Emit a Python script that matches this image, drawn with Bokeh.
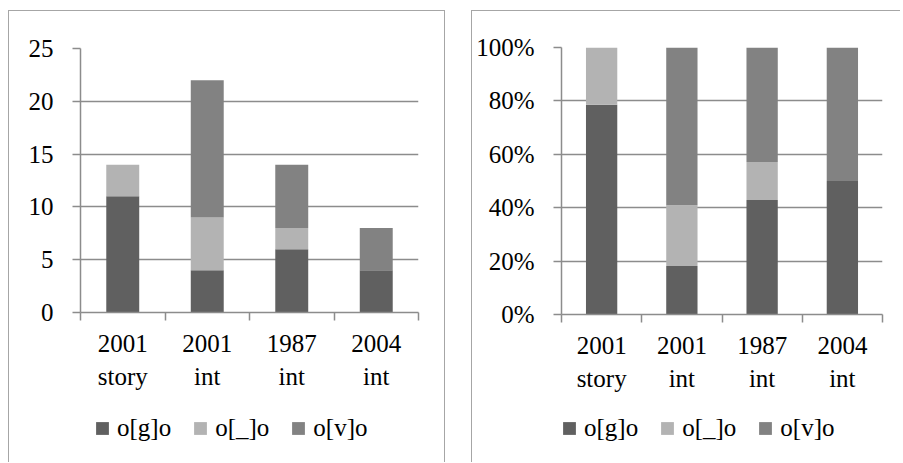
from bokeh.plotting import figure
from bokeh.models import (Range1d, FixedTicker, LinearAxis, Legend, LegendItem,
                          NumeralTickFormatter, ColumnDataSource)
from bokeh.layouts import row, column
from bokeh.embed import file_html
from bokeh.resources import INLINE

# ---- data ----
categories = ["2001\nstory", "2001\nint", "1987\nint", "2004\nint"]
series_names = ["o[g]o", "o[_]o", "o[v]o"]
g_counts = [11, 4, 6, 4]
blank_counts = [3, 5, 2, 0]
v_counts = [0, 13, 6, 4]
count_ticks = [0, 5, 10, 15, 20, 25]
pct_ticks = [0, 0.2, 0.4, 0.6, 0.8, 1.0]
colors = ["#606060", "#b3b3b3", "#828282"]

FONT = "Liberation Serif"
FS = "25px"
GRID = "#8c8c8c"
BORDER = "#a6a6a6"
B = f"1px solid {BORDER}"


def build(values, y_max, y_ticks, pct, w, h, mb, legend_x, right_border, margin):
    x = [i + 0.5 for i in range(len(categories))]
    src = ColumnDataSource(dict(x=x, g=values[0], b=values[1], v=values[2]))
    xr = Range1d(0, len(categories))
    p = figure(width=w, height=h, x_range=xr,
               y_range=Range1d(0, y_max), x_axis_type=None,
               output_backend="svg", toolbar_location=None,
               min_border_left=mb[0], min_border_right=mb[1],
               min_border_top=mb[2], min_border_bottom=mb[3])
    p.outline_line_color = None

    p.vbar_stack(["g", "b", "v"], x="x", width=0.39, color=colors,
                 line_color=None, source=src)

    # y axis
    ya = p.yaxis[0]
    ya.ticker = FixedTicker(ticks=y_ticks)
    if pct:
        ya.formatter = NumeralTickFormatter(format="0%")
    ya.major_tick_in = 0
    ya.major_tick_out = 8
    ya.minor_tick_line_color = None
    ya.axis_line_color = GRID
    ya.axis_line_width = 1.5
    ya.major_tick_line_color = GRID
    ya.major_tick_line_width = 1.5
    ya.major_label_standoff = 19
    ya.major_label_text_font = FONT
    ya.major_label_text_font_size = FS
    ya.major_label_text_color = "black"

    p.ygrid.ticker = FixedTicker(ticks=y_ticks)
    p.ygrid.grid_line_color = GRID
    p.ygrid.grid_line_width = 1.5

    # x axis with ticks at category boundaries
    xa1 = LinearAxis(ticker=FixedTicker(ticks=list(range(len(categories) + 1))),
                     major_tick_in=0, major_tick_out=8,
                     minor_tick_line_color=None,
                     axis_line_color=GRID, axis_line_width=1.5,
                     major_tick_line_color=GRID, major_tick_line_width=1.5,
                     major_label_text_font_size="0px", major_label_standoff=0,
                     major_label_overrides={i: "" for i in range(len(categories) + 1)})
    p.add_layout(xa1, "below")
    # category labels centered under bars
    xa2 = LinearAxis(ticker=FixedTicker(ticks=x),
                     major_tick_in=0, major_tick_out=0,
                     minor_tick_line_color=None, axis_line_color=None,
                     major_tick_line_color=None,
                     major_label_standoff=9,
                     major_label_text_font=FONT, major_label_text_font_size=FS,
                     major_label_text_color="black",
                     major_label_text_line_height=1.23,
                     major_label_overrides={xv: c for xv, c in zip(x, categories)})
    p.add_layout(xa2, "below")

    top_styles = {"border-left": B, "border-top": B}
    if right_border:
        top_styles["border-right"] = B
    p.styles = top_styles

    # legend strip underneath (same series as hidden renderers, only the legend shows)
    lh = 452 - h
    lf = figure(width=w, height=lh, x_range=xr, y_range=Range1d(-2 * y_max, -y_max),
                x_axis_type=None, y_axis_type=None,
                output_backend="svg", toolbar_location=None,
                min_border_left=0, min_border_right=0,
                min_border_top=0, min_border_bottom=0)
    lf.outline_line_color = None
    lf.xgrid.visible = False
    lf.ygrid.visible = False
    rs = lf.vbar_stack(["g", "b", "v"], x="x", width=0.39, color=colors,
                       line_color=None, source=src)
    for r in rs:
        r.visible = False
    items = [LegendItem(label=n, renderers=[r]) for n, r in zip(series_names, rs)]
    legend = Legend(items=items, location=(legend_x, 20), orientation="horizontal",
                    border_line_color=None, background_fill_alpha=0,
                    padding=0, margin=0, spacing=21,
                    glyph_width=16, glyph_height=16, label_standoff=7,
                    label_text_font=FONT, label_text_font_size=FS,
                    label_text_color="black")
    lf.add_layout(legend, "center")
    bottom_styles = {"border-left": B}
    if right_border:
        bottom_styles["border-right"] = B
    lf.styles = bottom_styles

    col = column(p, lf, spacing=0)
    col.margin = margin
    return col


total = [g + b + v for g, b, v in zip(g_counts, blank_counts, v_counts)]
pct_values = [[v / t for v, t in zip(series, total)]
              for series in (g_counts, blank_counts, v_counts)]

c1 = build([g_counts, blank_counts, v_counts], 25, count_ticks, False,
           437, 394, (71, 28, 37, 93), 14, True, (10, 0, 0, 8))
c2 = build(pct_values, 1.0, pct_ticks, True,
           429, 394, (89, 19, 36, 91), 0, False, (10, 0, 0, 26))

layout = row(c1, c2)
open("out.html", "w").write(file_html(layout, INLINE))
